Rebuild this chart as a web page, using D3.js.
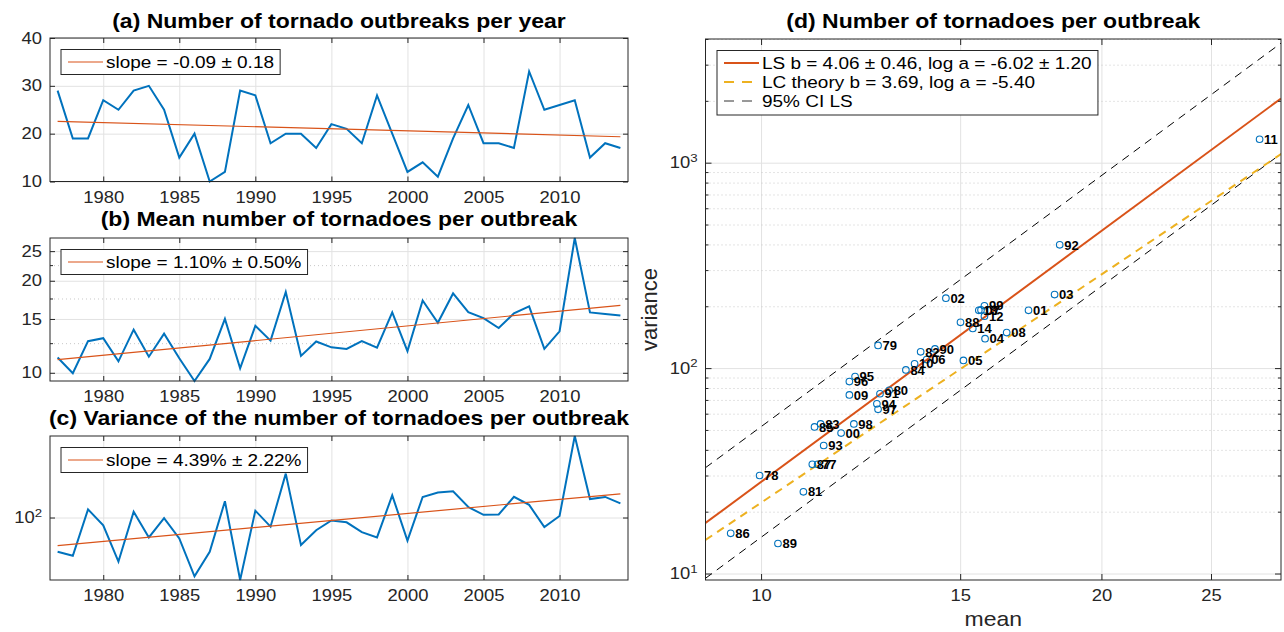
<!DOCTYPE html>
<html>
<head>
<meta charset="utf-8">
<script src="https://cdn.jsdelivr.net/npm/d3@7/dist/d3.min.js"></script>
<style>
html,body{margin:0;padding:0;background:#fff;}
svg{display:block;}
text{font-family:"Liberation Sans",Arial,Helvetica,sans-serif;}
</style>
</head>
<body>
<svg id="fig" width="1284" height="632"></svg>
<script>
// ---------------- data ----------------
const years = [1977,1978,1979,1980,1981,1982,1983,1984,1985,1986,1987,1988,1989,1990,1991,1992,1993,1994,1995,1996,
               1997,1998,1999,2000,2001,2002,2003,2004,2005,2006,2007,2008,2009,2010,2011,2012,2013,2014];
const outbreaksPerYear = [29,19,19,27,25,29,30,25,15,20,10,12,29,28,18,20,20,17,22,21,
                          18,28,20,12,14,11,19,26,18,18,17,33,25,26,27,15,18,17];
const meanPerOutbreak = [11.22,9.97,12.69,12.98,10.90,13.84,11.29,13.43,11.15,9.40,11.10,15.01,10.35,14.25,12.74,18.37,11.36,12.66,12.11,11.97,
                         12.69,12.08,15.76,11.77,17.24,14.57,18.18,15.78,15.10,14.01,15.65,16.49,11.97,13.67,27.6,15.76,15.58,15.39];
const varPerOutbreak = [34,30,129,78,25,120,53.5,98,51.7,15.7,34,167,14.0,124,75,398,42,67,91,86,
                        63,53.5,201,48.3,191,219,228,139,109,110,192,149,74,105,1300,179,191,156];

const timeTicks = [1980,1985,1990,1995,2000,2005,2010];
const timeLimits = [1976.5, 2014.5];
const outbreakTicks = [10,20,30,40];
const outbreakLimits = [10,40];
const meanTicks = [10,15,20,25];
const meanMinorTicks = [12.5,17.5,22.5];
const varTicks = [100];

const scatterXTicks = [10,15,20,25];
const scatterYTicks = [10,100,1000];
const scatterYMinor = [20,30,40,50,60,70,80,90,200,300,400,500,600,700,800,900,2000,3000,4000];
const scatterXLimits = [8.93, 28.83];
const scatterYLimits = [9.3, 4000];
const lsFit = {b: 4.06, logA: -6.02};
const lcFit = {b: 3.69, logA: -5.40};
const ciHalfWidth = 0.62;

const titles = ["(a) Number of tornado outbreaks per year",
                "(b) Mean number of tornadoes per outbreak",
                "(c) Variance of the number of tornadoes per outbreak",
                "(d) Number of tornadoes per outbreak"];
const trendLegends = ["slope = -0.09 \u00b1 0.18", "slope = 1.10% \u00b1 0.50%", "slope = 4.39% \u00b1 2.22%"];
const scatterLegends = ["LS b = 4.06 \u00b1 0.46, log a = -6.02 \u00b1 1.20",
                        "LC theory b = 3.69, log a = -5.40",
                        "95% CI LS"];

// ---------------- style ----------------
const BLUE = "#0072BD", ORANGE = "#D95319", YELLOW = "#EDB120";
const INK = "#262626", GRID = "#e2e2e2", MINOR = "#c8c8c8";
const SX = 1.15;          // horizontal glyph stretch of the reference
const FONT = '"Liberation Sans",Arial,Helvetica,sans-serif';
const svg = d3.select("#fig");

function stretch(sel) {
  sel.each(function () {
    const t = d3.select(this);
    const x = +t.attr("x") || 0;
    t.attr("x", x / SX).attr("transform", `scale(${SX},1)`);
  });
}
function styleAxis(g, size) {
  g.attr("font-family", FONT).attr("font-size", size);
  g.select(".domain").remove();
  g.selectAll(".tick line").attr("stroke", INK).attr("stroke-width", 1);
  g.selectAll(".tick text").attr("fill", INK);
}
function gridAxis(g, gen, color, dash) {
  g.call(gen);
  g.select(".domain").remove();
  g.selectAll(".tick text").remove();
  g.selectAll(".tick line").attr("stroke", color).attr("stroke-width", 1)
    .attr("stroke-dasharray", dash || null);
}
function powLabels(g) {
  g.selectAll(".tick text").each(function (d) {
    const t = d3.select(this);
    t.text(null);
    t.append("tspan").text("10");
    t.append("tspan").attr("dy", "-0.55em").attr("font-size", "0.72em").text(Math.round(Math.log10(d)));
  });
}
function fitLine(xs, ys) {
  const mx = d3.mean(xs), my = d3.mean(ys);
  let sxy = 0, sxx = 0;
  xs.forEach((v, i) => { sxy += (v - mx) * (ys[i] - my); sxx += (v - mx) * (v - mx); });
  const b = sxy / sxx;
  return v => my + b * (v - mx);
}

// ---------------- time-series panels ----------------
const L = 50, R = 628;
const xT = d3.scaleLinear().domain(timeLimits).range([L, R]);

function timePanel(p) {
  const g = svg.append("g");
  const y = p.y, W = R - L, Hh = p.bottom - p.top;
  // grid
  g.append("g").attr("transform", `translate(0,${p.bottom})`)
    .call(s => gridAxis(s, d3.axisBottom(xT).tickValues(timeTicks).tickSize(-Hh).tickFormat(""), GRID));
  g.append("g").attr("transform", `translate(${L},0)`)
    .call(s => gridAxis(s, d3.axisLeft(y).tickValues(p.ticks).tickSize(-W).tickFormat(""), GRID));
  if (p.minor) {
    g.append("g").attr("transform", `translate(${L},0)`)
      .call(s => gridAxis(s, d3.axisLeft(y).tickValues(p.minor).tickSize(-W).tickFormat(""), MINOR, "1,3"));
  }
  // trend
  const tx = [years[0], years[years.length - 1]];
  let f, trend;
  if (p.log) {
    f = fitLine(years, p.values.map(v => Math.log(v)));
    trend = tx.map(t => [t, Math.exp(f(t))]);
  } else {
    f = fitLine(years, p.values);
    trend = tx.map(t => [t, f(t)]);
  }
  // data line
  g.append("path").datum(p.values)
    .attr("d", d3.line().x((d, i) => xT(years[i])).y(d => y(d)))
    .attr("fill", "none").attr("stroke", BLUE).attr("stroke-width", 2).attr("stroke-linejoin", "miter");
  g.append("path").datum(trend)
    .attr("d", d3.line().x(d => xT(d[0])).y(d => y(d[1])))
    .attr("fill", "none").attr("stroke", ORANGE).attr("stroke-width", 1.2);
  // box
  g.append("rect").attr("x", L).attr("y", p.top).attr("width", W).attr("height", Hh)
    .attr("fill", "none").attr("stroke", INK).attr("stroke-width", 1);
  // axes
  const ax = g.append("g").attr("transform", `translate(0,${p.bottom})`)
    .call(d3.axisBottom(xT).tickValues(timeTicks).tickSize(-5).tickPadding(10).tickFormat(d3.format("d")));
  styleAxis(ax, 16); stretch(ax.selectAll(".tick text"));
  const axt = g.append("g").attr("transform", `translate(0,${p.top})`)
    .call(d3.axisTop(xT).tickValues(timeTicks).tickSize(-5).tickFormat(""));
  styleAxis(axt, 16);
  const ay = g.append("g").attr("transform", `translate(${L},0)`)
    .call(d3.axisLeft(y).tickValues(p.ticks).tickSize(-5).tickPadding(8).tickFormat(p.fmt));
  styleAxis(ay, 16);
  if (p.pow) powLabels(ay);
  stretch(ay.selectAll(".tick text"));
  const ayr = g.append("g").attr("transform", `translate(${R},0)`)
    .call(d3.axisRight(y).tickValues(p.ticks).tickSize(-5).tickFormat(""));
  styleAxis(ayr, 16);
  if (p.minor) {
    [[L, d3.axisLeft], [R, d3.axisRight]].forEach(([pos, gen]) => {
      const m = g.append("g").attr("transform", `translate(${pos},0)`)
        .call(gen(y).tickValues(p.minor).tickSize(-3).tickFormat(""));
      styleAxis(m, 16);
    });
  }
  // title
  g.append("text").attr("x", (L + R) / 2).attr("y", p.titleY).attr("text-anchor", "middle")
    .attr("font-size", 20).attr("font-weight", "bold").attr("fill", "#000").text(p.title)
    .call(stretch);
  // legend
  const lg = g.append("g");
  const bx = 61, by = p.top + 11.5, bh = 25;
  const rect = lg.append("rect").attr("x", bx).attr("y", by).attr("height", bh)
    .attr("fill", "#fff").attr("stroke", INK).attr("stroke-width", 1);
  lg.append("line").attr("x1", 68).attr("x2", 103).attr("y1", by + bh / 2).attr("y2", by + bh / 2)
    .attr("stroke", ORANGE).attr("stroke-width", 1.2);
  const lt = lg.append("text").attr("x", 106).attr("y", by + bh / 2 + 6).attr("font-size", 16.5)
    .attr("fill", "#000").text(p.legend);
  const len = lt.node().getComputedTextLength() * SX;
  lt.call(stretch);
  rect.attr("width", 106 - bx + len + 6);
}

timePanel({
  top: 38, bottom: 181.5, values: outbreaksPerYear, log: false,
  y: d3.scaleLinear().domain(outbreakLimits).range([181.5, 38]),
  ticks: outbreakTicks, fmt: d3.format("d"), title: titles[0], titleY: 28, legend: trendLegends[0]
});
timePanel({
  top: 238, bottom: 381, values: meanPerOutbreak, log: true,
  y: d3.scaleLog().domain(d3.extent(meanPerOutbreak)).range([381, 238]),
  ticks: meanTicks, minor: meanMinorTicks, fmt: d3.format("d"), title: titles[1], titleY: 226.5, legend: trendLegends[1]
});
timePanel({
  top: 436, bottom: 580, values: varPerOutbreak, log: true,
  y: d3.scaleLog().domain(d3.extent(varPerOutbreak)).range([580, 436]),
  ticks: varTicks, fmt: d3.format("d"), pow: true, title: titles[2], titleY: 425.5, legend: trendLegends[2]
});

// ---------------- scatter panel (d) ----------------
const DL = 705.5, DR = 1281, DT = 39, DB = 580;
const xd = d3.scaleLog().domain(scatterXLimits).range([DL, DR]);
const yd = d3.scaleLog().domain(scatterYLimits).range([DB, DT]);
const gd = svg.append("g");

gd.append("g").attr("transform", `translate(0,${DB})`)
  .call(s => gridAxis(s, d3.axisBottom(xd).tickValues(scatterXTicks).tickSize(-(DB - DT)).tickFormat(""), GRID));
gd.append("g").attr("transform", `translate(${DL},0)`)
  .call(s => gridAxis(s, d3.axisLeft(yd).tickValues(scatterYMinor).tickSize(-(DR - DL)).tickFormat(""), MINOR, "1,3"));
gd.append("g").attr("transform", `translate(${DL},0)`)
  .call(s => gridAxis(s, d3.axisLeft(yd).tickValues(scatterYTicks).tickSize(-(DR - DL)).tickFormat(""), GRID));

svg.append("clipPath").attr("id", "clipD").append("rect")
  .attr("x", DL).attr("y", DT).attr("width", DR - DL).attr("height", DB - DT);
const lineD = d3.line().x(d => xd(d[0])).y(d => yd(d[1]));
const powerLine = (logA, b) => scatterXLimits.map(m => [m, Math.exp(logA) * Math.pow(m, b)]);
const lines = gd.append("g").attr("clip-path", "url(#clipD)");
[lsFit.logA + ciHalfWidth, lsFit.logA - ciHalfWidth].forEach(a => {
  lines.append("path").datum(powerLine(a, lsFit.b)).attr("d", lineD)
    .attr("fill", "none").attr("stroke", "#000").attr("stroke-width", 1).attr("stroke-dasharray", "8,6");
});
lines.append("path").datum(powerLine(lcFit.logA, lcFit.b)).attr("d", lineD)
  .attr("fill", "none").attr("stroke", YELLOW).attr("stroke-width", 2).attr("stroke-dasharray", "8,6");
lines.append("path").datum(powerLine(lsFit.logA, lsFit.b)).attr("d", lineD)
  .attr("fill", "none").attr("stroke", ORANGE).attr("stroke-width", 2);

const pts = years.map((yr, i) => ({lab: String(yr).slice(-2), m: meanPerOutbreak[i], v: varPerOutbreak[i]}));
gd.append("g").selectAll("circle").data(pts).join("circle")
  .attr("cx", d => xd(d.m)).attr("cy", d => yd(d.v)).attr("r", 3.3)
  .attr("fill", "none").attr("stroke", BLUE).attr("stroke-width", 1.1);
gd.append("g").selectAll("text").data(pts).join("text")
  .attr("x", d => xd(d.m) + 4.5).attr("y", d => yd(d.v)).attr("dy", "0.36em")
  .attr("font-size", 13).attr("font-weight", "bold").attr("fill", "#000").text(d => d.lab);

gd.append("rect").attr("x", DL).attr("y", DT).attr("width", DR - DL).attr("height", DB - DT)
  .attr("fill", "none").attr("stroke", INK).attr("stroke-width", 1);

const dxa = gd.append("g").attr("transform", `translate(0,${DB})`)
  .call(d3.axisBottom(xd).tickValues(scatterXTicks).tickSize(-6).tickPadding(10).tickFormat(d3.format("d")));
styleAxis(dxa, 16); stretch(dxa.selectAll(".tick text"));
styleAxis(gd.append("g").attr("transform", `translate(0,${DT})`)
  .call(d3.axisTop(xd).tickValues(scatterXTicks).tickSize(-6).tickFormat("")), 16);
const dya = gd.append("g").attr("transform", `translate(${DL},0)`)
  .call(d3.axisLeft(yd).tickValues(scatterYTicks).tickSize(-6).tickPadding(8).tickFormat(""));
styleAxis(dya, 16); powLabels(dya); stretch(dya.selectAll(".tick text"));
styleAxis(gd.append("g").attr("transform", `translate(${DR},0)`)
  .call(d3.axisRight(yd).tickValues(scatterYTicks).tickSize(-6).tickFormat("")), 16);
[[DL, d3.axisLeft], [DR, d3.axisRight]].forEach(([pos, gen]) => {
  styleAxis(gd.append("g").attr("transform", `translate(${pos},0)`)
    .call(gen(yd).tickValues(scatterYMinor).tickSize(-3).tickFormat("")), 16);
});

gd.append("text").attr("x", (DL + DR) / 2).attr("y", 28).attr("text-anchor", "middle")
  .attr("font-size", 20).attr("font-weight", "bold").attr("fill", "#000").text(titles[3]).call(stretch);
gd.append("text").attr("x", (DL + DR) / 2).attr("y", 626).attr("text-anchor", "middle")
  .attr("font-size", 20).attr("fill", INK).text("mean").call(stretch);
gd.append("text").attr("transform", `translate(657,${(DT + DB) / 2}) rotate(-90)`).attr("text-anchor", "middle")
  .attr("font-size", 22).attr("fill", INK).text("variance");

// legend (d)
const dl = gd.append("g");
const lbx = 717, lby = 50.5, rowH = 19;
const lrect = dl.append("rect").attr("x", lbx).attr("y", lby).attr("height", 64.5)
  .attr("fill", "#fff").attr("stroke", INK).attr("stroke-width", 1);
const legStyles = [
  {c: ORANGE, w: 2, dash: null},
  {c: YELLOW, w: 2, dash: "10,8"},
  {c: "#333", w: 1, dash: "10,8"}
];
let maxLen = 0;
scatterLegends.forEach((txt, i) => {
  const cy = lby + 12.5 + i * rowH;
  dl.append("line").attr("x1", 724).attr("x2", 759).attr("y1", cy).attr("y2", cy)
    .attr("stroke", legStyles[i].c).attr("stroke-width", legStyles[i].w).attr("stroke-dasharray", legStyles[i].dash);
  const t = dl.append("text").attr("x", 762).attr("y", cy + 6).attr("font-size", 16.5).attr("fill", "#000").text(txt);
  maxLen = Math.max(maxLen, t.node().getComputedTextLength() * SX);
  t.call(stretch);
});
lrect.attr("width", 762 - lbx + maxLen + 6);
</script>
</body>
</html>
